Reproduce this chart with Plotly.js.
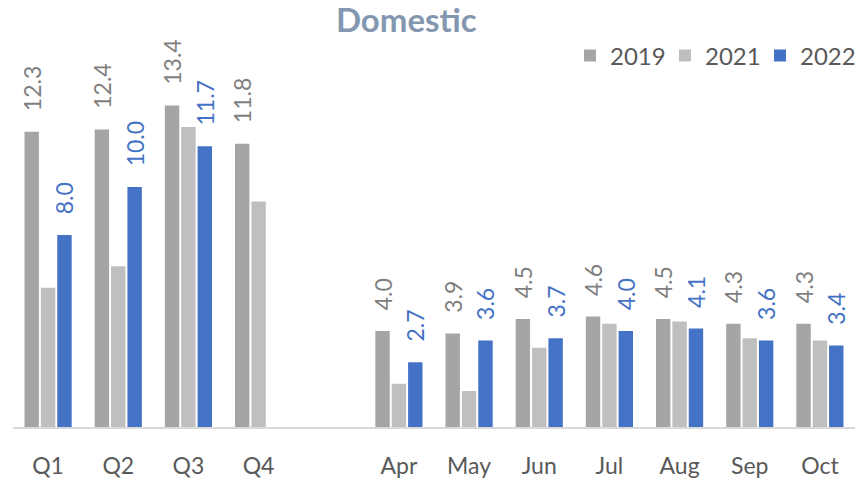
<!DOCTYPE html>
<html>
<head>
<meta charset="utf-8">
<script src="https://cdn.plot.ly/plotly-3.0.1.min.js"></script>
<style>html,body{margin:0;padding:0;background:#fff;}#chart{width:859px;height:482px;}</style>
</head>
<body>
<div id="chart"></div>
<script>
const categories = ["Q1", "Q2", "Q3", "Q4", " ", "Apr", "May", "Jun", "Jul", "Aug", "Sep", "Oct"];
const series2019 = [12.3, 12.4, 13.4, 11.8, null, 4.0, 3.9, 4.5, 4.6, 4.5, 4.3, 4.3];
const series2021 = [5.8, 6.7, 12.5, 9.4, null, 1.8, 1.5, 3.3, 4.3, 4.4, 3.7, 3.6];
const series2022 = [8.0, 10.0, 11.7, null, null, 2.7, 3.6, 3.7, 4.0, 4.1, 3.6, 3.4];
const seriesNames = ["2019", "2021", "2022"];

const FONT = "Lato, 'Noto Sans', sans-serif";
const pad = "\u00a0\u00a0\u00a0";

function barTrace(name, values, color, labelColor, showLabels) {
  const t = {
    type: "bar",
    name: name,
    x: categories,
    y: values,
    marker: {color: color},
    hoverinfo: "skip",
    cliponaxis: false
  };
  if (showLabels) {
    t.text = values.map(v => v === null ? "" : pad + v.toFixed(1));
    t.texttemplate = "%{text}";
    t.textposition = "outside";
    t.textangle = -90;
    t.constraintext = "none";
    t.textfont = {family: FONT, size: 23, color: labelColor};
  }
  return t;
}

const data = [
  barTrace(seriesNames[0], series2019, "#A5A5A5", "#7F7F7F", true),
  barTrace(seriesNames[1], series2021, "#BFBFBF", "#7F7F7F", false),
  barTrace(seriesNames[2], series2022, "#4472C4", "#4472C4", true)
];

const layout = {
  width: 859,
  height: 482,
  margin: {l: 13, r: 4, t: 67, b: 55, autoexpand: false},
  paper_bgcolor: "#ffffff",
  plot_bgcolor: "#ffffff",
  barmode: "group",
  bargap: 0.3,
  bargroupgap: 0.12,
  showlegend: true,
  title: {
    text: "<b>Domestic</b>",
    font: {family: FONT, size: 33, color: "#8497B0"},
    x: 0.473, xref: "container", xanchor: "center",
    y: 1 - 20 / 482, yref: "container", yanchor: "middle",
    automargin: false
  },
  legend: {
    orientation: "h",
    x: 1.0, xref: "paper", xanchor: "right",
    y: 1 - 56 / 482, yref: "container",
    yanchor: "middle",
    font: {family: FONT, size: 24, color: "#595959"},
    entrywidth: 50,
    itemclick: false,
    traceorder: "normal",
    bgcolor: "rgba(0,0,0,0)"
  },
  xaxis: {
    type: "category",
    showgrid: false,
    zeroline: false,
    showline: true,
    linecolor: "#D9D9D9",
    linewidth: 2,
    ticks: "",
    ticklabelstandoff: 17,
    tickfont: {family: FONT, size: 23, color: "#595959"},
    fixedrange: true
  },
  yaxis: {
    range: [0, 15],
    visible: false,
    showgrid: false,
    zeroline: false,
    fixedrange: true
  }
};

Plotly.newPlot("chart", data, layout, {displayModeBar: false, staticPlot: true});
</script>
</body>
</html>
